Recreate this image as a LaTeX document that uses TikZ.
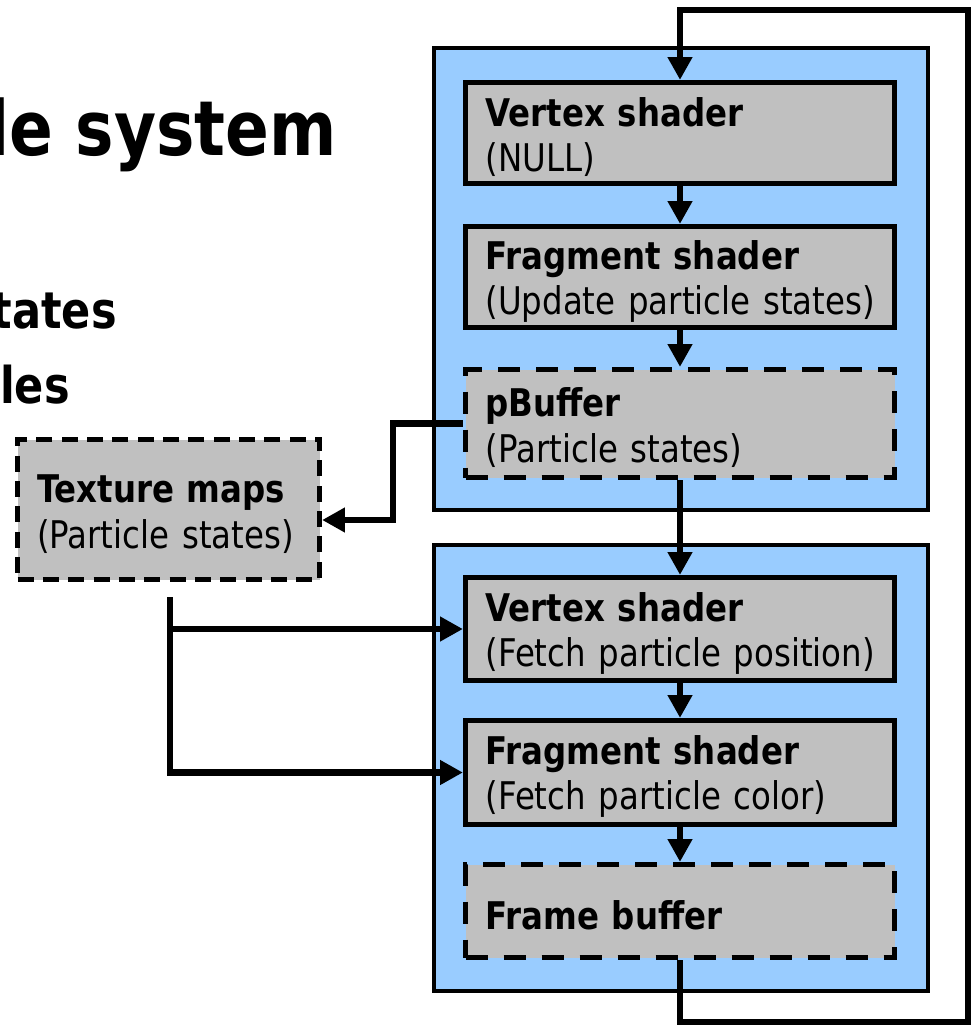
\documentclass[tikz,border=0pt]{standalone}
\usepackage{fontspec}
\setmainfont[FakeStretch=0.85]{DejaVu Sans}
\usetikzlibrary{arrows.meta}
\definecolor{stageblue}{HTML}{99CCFF}
\definecolor{boxgray}{HTML}{C0C0C0}
\newcommand\boxfont{\fontsize{28.6pt}{34pt}\selectfont}

\begin{document}
\begin{tikzpicture}[x=0.75pt,y=-0.75pt,
  stage/.style={draw=black,line width=3pt,fill=stageblue,minimum width=370.5pt,inner sep=0pt},
  unit/.style={draw=black,line width=3.9pt,fill=boxgray,minimum width=321.75pt,
    text width=291.75pt,align=left,inner sep=0pt,font=\boxfont,
    execute at begin node={\rule{0pt}{28pt}}},
  store/.style={unit,dash pattern=on 16.5pt off 12pt},
  texstore/.style={draw=black,line width=3.9pt,fill=boxgray,minimum width=226.5pt,
    minimum height=105pt,text width=197.25pt,align=left,inner sep=0pt,
    dash pattern=on 12pt off 7pt,font=\boxfont,
    execute at begin node={\rule{0pt}{28pt}}},
  flow/.style={line width=5.2pt,-{Triangle[length=17pt,width=17.5pt]}},
  heading/.style={anchor=base east,inner sep=0pt,font=\bfseries\fontsize{57pt}{66pt}\selectfont},
  subhead/.style={anchor=base east,inner sep=0pt,font=\bfseries\fontsize{38pt}{46pt}\selectfont},
]
\useasboundingbox (0,0) rectangle (974,1029);
\clip (0,0) rectangle (974,1029);

% slide text running off the left edge
\node[heading] (title) at (337,155) {le system};
\node[subhead] (bul1) at (117,328) {tates};
\node[subhead] (bul2) at (70,403) {les};

% the two rendering passes
\node[stage,minimum height=346.5pt] (pass1) at (681,279) {};
\node[stage,minimum height=334.5pt] (pass2) at (681,768) {};

% first pass: particle update
\node[unit,minimum height=75.75pt] (vs1) at (680,133) {\textbf{Vertex shader}\\\mbox{(NULL)}};
\node[unit,minimum height=75.75pt] (fs1) at (680,277) {\textbf{Fragment shader}\\\mbox{(Update particle states)}};
\node[store,minimum height=81pt] (pb) at (680,423.5) {\textbf{pBuffer}\\\mbox{(Particle states)}};

% second pass: rendering
\node[unit,minimum height=77.25pt] (vs2) at (680,629) {\textbf{Vertex shader}\\\mbox{(Fetch particle position)}};
\node[unit,minimum height=78pt] (fs2) at (680,772.5) {\textbf{Fragment shader}\\\mbox{(Fetch particle color)}};
\node[store,minimum height=69.75pt,execute at begin node={\rule{0pt}{25pt}}] (fb) at (680,911) {\textbf{Frame buffer}};

% texture copy of the states
\node[texstore] (tex) at (168.5,509.5) {\textbf{Texture maps}\\\mbox{(Particle states)}};

% pipeline arrows
\draw[flow] (vs1.south) -- (fs1.north);
\draw[flow] (fs1.south) -- (pb.north);
\draw[flow] (pb.south) -- (vs2.north);
\draw[flow] (vs2.south) -- (fs2.north);
\draw[flow] (fs2.south) -- (fb.north);

% feedback loop from frame buffer back to the first pass
\coordinate (loopbot) at (968,1022);
\coordinate (looptop) at (968,10);
\draw[flow] (fb.south) -- (fb.south |- loopbot) -- (loopbot) -- (looptop)
  -- (vs1.north |- looptop) -- (vs1.north);

% pBuffer copied to texture maps
\coordinate (bend) at (393,520);
\draw[flow] (pb.west) -| (bend) -- (tex.east |- bend);

% texture maps fed to the second pass
\coordinate (src) at (170,597);
\draw[flow] (src) |- (fs2.west);
\draw[flow] (src |- vs2.west) -- (vs2.west);
\end{tikzpicture}
\end{document}
